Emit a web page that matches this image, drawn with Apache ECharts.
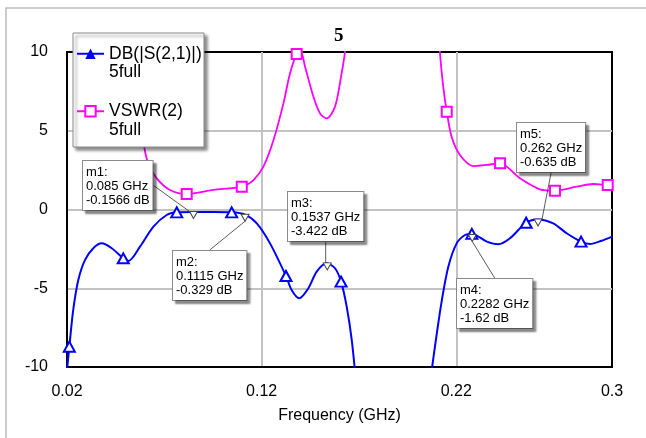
<!DOCTYPE html>
<html>
<head>
<meta charset="utf-8">
<script src="https://cdn.jsdelivr.net/npm/echarts@6/dist/echarts.min.js"></script>
<style>
html,body{margin:0;padding:0;background:#fff;}
#chart{width:646px;height:438px;}
</style>
</head>
<body>
<div id="chart"></div>
<script>
// ---- data ----
const titleText = '5';
const xAxisName = 'Frequency (GHz)';
const legendNames = ['DB(|S(2,1)|)', 'VSWR(2)'];
const legendSub = '5full';

// DB(|S(2,1)|) curve (null = break, values beyond -10 are clipped)
const s21Freq = [0.0200, 0.0212, 0.0232, 0.0258, 0.0292, 0.0335, 0.0378, 0.0430, 0.0489, 0.0515, 0.0575, 0.0644, 0.0712, 0.0764, 0.0850, 0.0950, 0.1046, 0.1115, 0.1175, 0.1243, 0.1325, 0.1354, 0.1393, 0.1440, 0.1483, 0.1534, 0.1577, 0.1608, 0.1637, 0.1663, 0.1685,
  null,
  0.2065, 0.2100, 0.2126, 0.2159, 0.2202, 0.2245, 0.2280, 0.2357, 0.2416, 0.2476, 0.2559, 0.2620, 0.2698, 0.2767, 0.2841, 0.2887, 0.2947, 0.3000];
const s21Db = [-10.2, -8.71, -6.38, -4.48, -3.21, -2.46, -2.15, -2.46, -3.10, -3.27, -2.36, -1.09, -0.35, -0.18, -0.16, -0.16, -0.18, -0.33, -0.88, -2.15, -4.22, -5.11, -5.64, -5.00, -3.95, -3.42, -3.73, -4.58, -6.17, -8.29, -11,
  null,
  -11, -7.86, -5.75, -3.63, -2.15, -1.62, -1.55, -2.04, -2.21, -1.83, -0.84, -0.63, -0.88, -1.51, -2.04, -2.19, -1.98, -1.72];
// triangle symbols on the S21 trace
const s21SymFreq = [0.0212, 0.0489, 0.0764, 0.1046, 0.1325, 0.1608, 0.2280, 0.2559, 0.2841];
const s21SymDb = [-8.71, -3.10, -0.18, -0.18, -4.22, -4.58, -1.55, -0.84, -2.04];

// VSWR(2) curve
const vswrFreq = [0.0500, 0.0540, 0.0570, 0.0601, 0.0618, 0.0661, 0.0729, 0.0815, 0.0952, 0.1098, 0.1158, 0.1209, 0.1261, 0.1312, 0.1346, 0.1380, 0.1400, 0.1423, 0.1466, 0.1500, 0.1534, 0.1577, 0.1611, 0.1628, 0.1650,
  null,
  0.2100, 0.2116, 0.2133, 0.2151, 0.2176, 0.2219, 0.2287, 0.2356, 0.2425, 0.2527, 0.2630, 0.2707, 0.2818, 0.2903, 0.2978, 0.3000];
const vswrVal = [14, 9.5, 6.3, 3.67, 2.93, 1.98, 1.24, 0.98, 1.24, 1.45, 1.87, 2.72, 4.41, 6.74, 8.65, 9.87, 10.05, 9.07, 7.16, 6.10, 5.79, 6.53, 8.65, 10.0, 13,
  null,
  14, 10.0, 7.8, 6.21, 4.62, 3.46, 2.76, 2.83, 2.93, 1.98, 1.28, 1.19, 1.45, 1.62, 1.56, 1.55];
// square symbols on the VSWR trace
const vswrSymFreq = [0.0815, 0.1098, 0.1380, 0.2151, 0.2425, 0.2707, 0.2978];
const vswrSymVal = [0.98, 1.45, 9.87, 6.21, 2.93, 1.19, 1.56];

// markers
const markerNames = ['m1', 'm2', 'm3', 'm4', 'm5'];
const markerFreq = [0.085, 0.1115, 0.1537, 0.2282, 0.262];
const markerDb = [-0.1566, -0.329, -3.422, -1.62, -0.635];

// axis ticks
const xMin = 0.02, xMax = 0.3, xStep = 0.1;
const yMin = -10, yMax = 10, yStep = 5;

// ---- layout (annotation box top-left corners, px) ----
const markerBoxPos = [[83, 161], [173, 251], [288, 192], [457, 279], [517, 123]];

const FONT = 'Liberation Sans, Arial, sans-serif';
const zip = (xs, ys) => xs.map((x, i) => (x === null ? [null, null] : [x, ys[i]]));
const markerText = i => markerNames[i] + ':\n' + markerFreq[i] + ' GHz\n' + markerDb[i] + ' dB';

const chart = echarts.init(document.getElementById('chart'), null, { renderer: 'canvas' });

const option = {
  animation: false,
  backgroundColor: '#fff',
  title: {
    text: titleText, left: 334, top: 26, padding: 0,
    textStyle: { fontFamily: 'Liberation Serif, Times New Roman, serif', fontWeight: 'bold', fontSize: 19, lineHeight: 20, color: '#000' }
  },
  grid: { left: 67, right: 34, top: 52, bottom: 71, show: true, borderColor: '#000', borderWidth: 2, backgroundColor: 'transparent' },
  legend: {
    orient: 'vertical', left: 76, top: 26, padding: 0,
    itemWidth: 27, itemHeight: 13, itemGap: 2,
    data: legendNames,
    formatter: name => '\n' + name + '\n' + legendSub,
    textStyle: { fontFamily: FONT, fontSize: 17.5, lineHeight: 18.5, color: '#000' },
    selectedMode: false
  },
  graphic: [
    { type: 'rect', z: 0, silent: true, shape: { x: 6, y: 8, width: 700, height: 500 }, style: { fill: 'none', stroke: '#bdbdbd', lineWidth: 1.5 } },
    { type: 'rect', z: 3, silent: true, shape: { x: 73, y: 33, width: 131, height: 114 },
      style: { fill: '#fff', stroke: '#8a8a8a', lineWidth: 1, shadowColor: 'rgba(0,0,0,0.45)', shadowOffsetX: 3, shadowOffsetY: 3, shadowBlur: 3 } }
  ],
  xAxis: {
    type: 'value', min: xMin, max: xMax, interval: xStep,
    name: xAxisName, nameLocation: 'middle', nameGap: 41,
    nameTextStyle: { fontFamily: FONT, fontSize: 16, color: '#000' },
    axisLine: { show: true, onZero: false, lineStyle: { color: '#000', width: 2 } },
    axisTick: { show: false },
    axisLabel: { fontFamily: FONT, fontSize: 16, color: '#000', margin: 17 },
    splitLine: { show: true, showMinLine: false, showMaxLine: false, lineStyle: { color: '#c3c3c3', width: 2 } }
  },
  yAxis: {
    type: 'value', min: yMin, max: yMax, interval: yStep,
    axisLine: { show: true, onZero: false, lineStyle: { color: '#000', width: 2 } },
    axisTick: { show: false },
    axisLabel: { fontFamily: FONT, fontSize: 16, color: '#000', margin: 19 },
    splitLine: { show: true, showMinLine: false, showMaxLine: false, lineStyle: { color: '#c3c3c3', width: 2 } }
  },
  series: [
    {
      name: legendNames[0], type: 'line', data: zip(s21Freq, s21Db),
      smooth: 0.3, showSymbol: false, symbol: 'triangle', clip: true,
      lineStyle: { color: '#0000ff', width: 2 }, itemStyle: { color: '#0000ff' }, z: 2
    },
    {
      name: legendNames[1], type: 'line', data: zip(vswrFreq, vswrVal),
      smooth: 0.3, showSymbol: false, symbol: 'emptyRect', clip: true,
      lineStyle: { color: '#ff00ff', width: 1.8 }, itemStyle: { color: '#ff00ff' }, z: 2
    },
    {
      name: 's21sym', type: 'scatter', data: zip(s21SymFreq, s21SymDb),
      symbol: 'emptyTriangle', symbolSize: [11, 10], clip: true,
      itemStyle: { color: '#0000ff', borderWidth: 2, opacity: 1 }, z: 3
    },
    {
      name: 'vswrsym', type: 'scatter', data: zip(vswrSymFreq, vswrSymVal),
      symbol: 'emptyRect', symbolSize: 10, clip: true,
      itemStyle: { color: '#ff00ff', borderWidth: 2, opacity: 1 }, z: 3
    },
    {
      name: 'markers', type: 'scatter',
      data: markerFreq.map((f, i) => ({ value: [f, markerDb[i]], name: markerNames[i] })),
      symbol: 'triangle', symbolRotate: 180, symbolSize: [8, 7], symbolOffset: [0, 3],
      itemStyle: { color: '#fff', borderColor: '#444', borderWidth: 1, opacity: 1 }, z: 5,
      label: {
        show: true, opacity: 1,
        formatter: p => markerText(p.dataIndex),
        fontFamily: FONT, fontSize: 13, lineHeight: 14, color: '#000',
        backgroundColor: '#ffffff', borderColor: '#8a8a8a', borderWidth: 1,
        padding: [4, 3, 3, 3],
        shadowColor: 'rgba(0,0,0,0.4)', shadowOffsetX: 3, shadowOffsetY: 3, shadowBlur: 2
      },
      labelLine: { show: true, lineStyle: { color: '#333', width: 0.8, opacity: 1 } },
      labelLayout: p => ({ x: markerBoxPos[p.dataIndex][0], y: markerBoxPos[p.dataIndex][1], align: 'left', verticalAlign: 'top' })
    }
  ]
};
chart.setOption(option);
</script>
</body>
</html>
